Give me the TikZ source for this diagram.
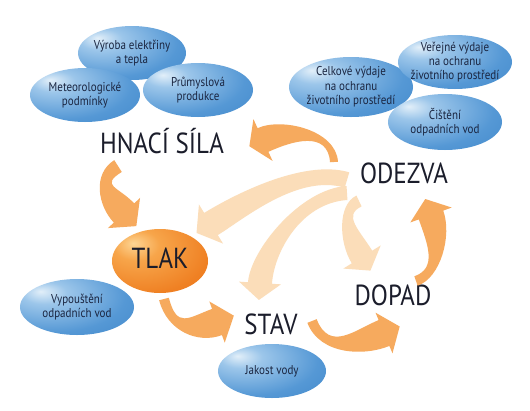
\documentclass[tikz,border=0pt]{standalone}
\usepackage{fontspec}
\setmainfont{PT Sans}[FakeStretch=0.86]
\usetikzlibrary{calc,shapes.geometric}
\definecolor{arrA}{HTML}{F6AA5E}
\definecolor{arrL}{HTML}{FBDDB9}
\definecolor{txt}{HTML}{1B1D2B}
\definecolor{etxt}{HTML}{1A2540}
\definecolor{bA}{HTML}{E2EFF9}
\definecolor{bB}{HTML}{9CC6EA}
\definecolor{bC}{HTML}{5598D5}
\definecolor{bD}{HTML}{3B83C7}
\definecolor{oA}{HTML}{FDD594}
\definecolor{oB}{HTML}{F7A54A}
\definecolor{oC}{HTML}{EF8023}
\definecolor{oD}{HTML}{E86E14}
\pgfdeclareradialshading{blueell}{\pgfpoint{-16bp}{14bp}}{color(0bp)=(bA); color(10bp)=(bB); color(32bp)=(bC); color(55bp)=(bD); color(100bp)=(bD)}
\pgfdeclareradialshading{orangeell}{\pgfpoint{-14bp}{14bp}}{color(0bp)=(oA); color(12bp)=(oB); color(35bp)=(oC); color(58bp)=(oD); color(100bp)=(oD)}
\tikzset{
  blob/.style={ellipse, shading=blueell, inner sep=0pt},
  blobtext/.style={align=center, text=etxt, font=\fontsize{12.8}{14.4}\selectfont, inner sep=0pt},
  big/.style={text=txt, font=\fontsize{29}{30}\selectfont, inner sep=0pt, anchor=base},
  orfill/.style={fill=arrA},
  ltfill/.style={fill=arrL},
}
% tapered curved block arrow:
% #1 style, #2 start, #3 control 1, #4 control 2, #5 head base,
% #6 tail half width, #7 shaft half width at head, #8 head half width, #9 head length
\newcommand\blockarrow[9]{%
  \path (#2) coordinate (p0) (#3) coordinate (p1) (#4) coordinate (p2) (#5) coordinate (p3);
  \path ($(p0)!#6!90:(p1)$) coordinate (l0) ($(p0)!#6!-90:(p1)$) coordinate (r0)
        ($(p3)!#7!-90:(p2)$) coordinate (l3) ($(p3)!#7!90:(p2)$) coordinate (r3)
        ($(p3)!#8!-90:(p2)$) coordinate (hl) ($(p3)!#8!90:(p2)$) coordinate (hr)
        ($(p3)!-#9!(p2)$) coordinate (tp);
  \fill[#1] (l0) .. controls ($(p1)+(l0)-(p0)$) and ($(p2)+(l3)-(p3)$) .. (l3)
     -- (hl) -- (tp) -- (hr) -- (r3)
     .. controls ($(p2)+(r3)-(p3)$) and ($(p1)+(r0)-(p0)$) .. (r0) -- cycle;
}
\begin{document}
\begin{tikzpicture}[x=1pt,y=-1pt]
\useasboundingbox (0,0) rectangle (530,410);
\fill[white] (0,0) rectangle (530,410);

% blue ellipses, left group
\node[blob, minimum width=108, minimum height=54] (vyroba) at (132,53) {};
\node[blob, minimum width=110, minimum height=54] (meteo) at (85,95) {};
\node[blob, minimum width=110, minimum height=54] (prum) at (198,90) {};
\node[blobtext] at (vyroba) {Výroba elektřiny\\a tepla};
\node[blobtext] at (meteo) {Meteorologické\\podmínky};
\node[blobtext] at (prum) {Průmyslová\\produkce};

% blue ellipses, right group
\node[blob, minimum width=124, minimum height=60] (celk) at (351,87) {};
\node[blob, minimum width=114, minimum height=54] (verej) at (455,62) {};
\node[blob, minimum width=114, minimum height=56] (cist) at (445,122) {};
\node[blobtext] at (celk) {Celkové výdaje\\na ochranu\\životního prostředí};
\node[blobtext] at (verej) {Veřejné výdaje\\na ochranu\\životního prostředí};
\node[blobtext] at (cist) {Čištění\\odpadních vod};

% lower blue ellipses
\node[blob, minimum width=114, minimum height=56] (vypou) at (77,307) {};
\node[blobtext] at (vypou) {Vypouštění\\odpadních vod};
\node[blob, minimum width=108, minimum height=54] (jakost) at (272,371) {};
\node[blobtext] at (jakost) {Jakost vody};

% TLAK
\node[ellipse, shading=orangeell, minimum width=96, minimum height=64, inner sep=0pt] (tlakell) at (160,261) {};
\node[big] (tlak) at (160,268) {TLAK};

% main labels
\node[big] (hnaci) at (162,153) {HNACÍ SÍLA};
\node[big] (odezva) at (404,183) {ODEZVA};
\node[big] (stav) at (271,334) {STAV};
\node[big] (dopad) at (393,305) {DOPAD};

% arrow points
\coordinate (fS) at (347,180); \coordinate (fB) at (211,224);
\coordinate (gS) at (347,193); \coordinate (gB) at (260,283);
\coordinate (hS) at (359,201); \coordinate (hB) at (362,257);
\coordinate (aS) at (118,166); \coordinate (aB) at (124,213);
\coordinate (bS) at (164,299); \coordinate (bB) at (217,322);
\coordinate (cS) at (312,321); \coordinate (cB) at (384,333);
\coordinate (dS) at (416,281); \coordinate (dB) at (431,215);
\coordinate (eS) at (334,162); \coordinate (eB) at (263,140);

% light arrows (ODEZVA to TLAK, STAV, DOPAD)
\blockarrow{ltfill}{fS}{300,166}{237,208}{fB}{8pt}{13pt}{23pt}{17pt}
\blockarrow{ltfill}{gS}{300,196}{262,252}{gB}{7pt}{12pt}{21pt}{17pt}
\blockarrow{ltfill}{hS}{340,210}{349,236}{hB}{6pt}{12pt}{22pt}{16pt}

% orange arrows
\blockarrow{orfill}{aS}{96,180}{108,196}{aB}{7pt}{14pt}{22pt}{18pt}
\blockarrow{orfill}{bS}{172,330}{193,331}{bB}{5pt}{14pt}{22pt}{18pt}
\blockarrow{orfill}{cS}{325,354}{360,343}{cB}{5pt}{14pt}{22pt}{17pt}
\blockarrow{orfill}{dS}{439,273}{440,240}{dB}{5pt}{13pt}{22pt}{17pt}
\blockarrow{orfill}{eS}{332,130}{287,129}{eB}{4pt}{13pt}{23pt}{15pt}
\end{tikzpicture}
\end{document}
